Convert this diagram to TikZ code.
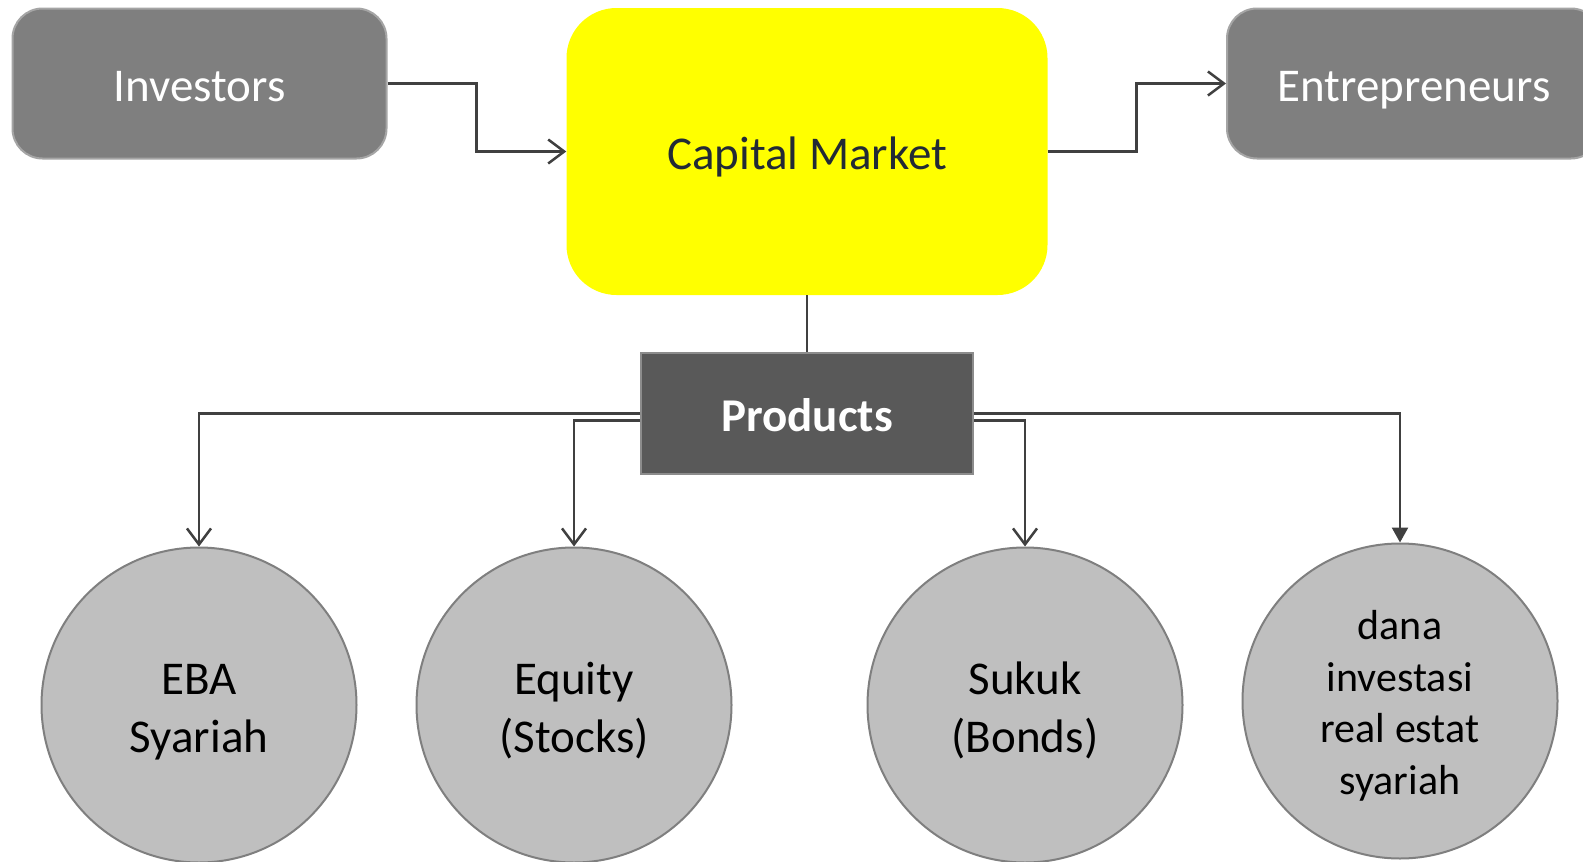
\documentclass[tikz,border=0pt]{standalone}
\usepackage{fontspec}
\setmainfont{Carlito}
\usetikzlibrary{arrows.meta}
\definecolor{boxgray}{HTML}{7F7F7F}
\definecolor{boxedge}{HTML}{A5A5A5}
\definecolor{proddark}{HTML}{595959}
\definecolor{prodedge}{HTML}{8C8C8C}
\definecolor{circfill}{HTML}{BFBFBF}
\definecolor{circedge}{HTML}{7F7F7F}
\definecolor{linecol}{HTML}{404040}
\definecolor{cmtext}{HTML}{222A35}
\definecolor{cmyellow}{HTML}{FFFF00}
\tikzset{
  txt/.style={text height=35pt, text depth=0pt},
  sidebox/.style={txt, draw=boxedge, fill=boxgray, line width=2pt, rounded corners=30pt,
    minimum width=374pt, minimum height=150pt, inner sep=0pt, text=white,
    font=\fontsize{47}{58}\selectfont},
  cmbox/.style={txt, fill=cmyellow, rounded corners=50pt, minimum width=481pt,
    minimum height=287pt, inner sep=0pt, text=cmtext, font=\fontsize{47}{58}\selectfont},
  prodbox/.style={txt, draw=prodedge, fill=proddark, line width=2pt, minimum width=332pt,
    minimum height=121pt, inner sep=0pt, text=white, font=\bfseries\fontsize{47}{58}\selectfont},
  prodcirc/.style={circle, draw=circedge, fill=circfill, line width=2pt,
    minimum size=315pt, inner sep=0pt, align=center, text=black,
    text height=94pt, text depth=0pt, font=\fontsize{47}{58}\selectfont},
  smallcirc/.style={prodcirc, text height=186pt, text depth=0pt,
    font=\fontsize{42}{51.5}\selectfont},
  conn/.style={draw=linecol, line width=2.5pt},
  openarr/.style={conn, -{Straight Barb[length=16pt,width=24pt,line width=2.5pt]}},
  fillarr/.style={conn, -{Triangle[length=15pt,width=16pt]}},
}
\begin{document}
\begin{tikzpicture}[x=1pt, y=-1pt]
\useasboundingbox (0,0) rectangle (1583,862);
\fill[white] (0,0) rectangle (1583,862);
\clip (0,0) rectangle (1583,862);

\node[sidebox] (inv) at (199.5,83.5) {Investors};
\node[cmbox] (cm) at (807,151.5) {Capital Market};
\node[sidebox] (ent) at (1414,83.5) {Entrepreneurs};
\node[prodbox] (prod) at (807,413.5) {Products};

\node[prodcirc] (eba) at (199,705) {EBA\\Syariah};
\node[prodcirc] (eq) at (574,705) {Equity\\(Stocks)};
\node[prodcirc] (suk) at (1025,705) {Sukuk\\(Bonds)};
\node[smallcirc] (dana) at (1400,701) {dana\\investasi\\real estat\\syariah};

\draw[openarr] (inv.east) -- ++(89,0) |- (cm.west);
\draw[openarr] (cm.east) -- ++(89,0) |- (ent.west);
\draw[conn] (cm.south) -- (prod.north);
\draw[openarr] (prod.west) -| (eba.north);
\draw[openarr] ([yshift=-7pt]prod.west) -| (eq.north);
\draw[openarr] ([yshift=-7pt]prod.east) -| (suk.north);
\draw[fillarr] (prod.east) -| (dana.north);
\end{tikzpicture}
\end{document}
